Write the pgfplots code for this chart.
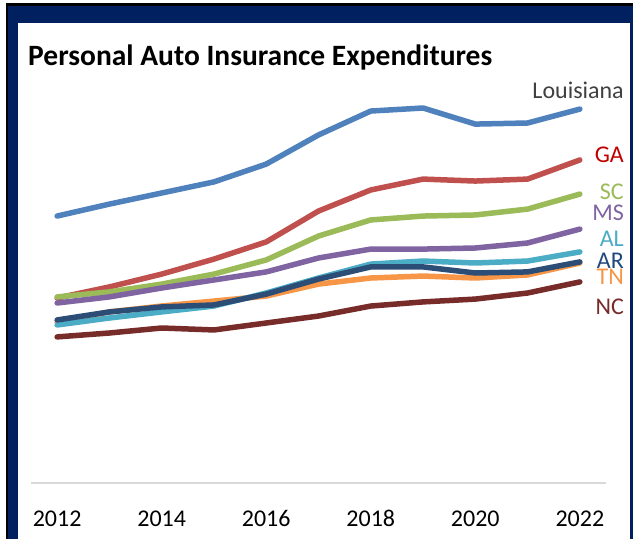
\documentclass[border=0pt]{standalone}
\usepackage{pgfplots}
\pgfplotsset{compat=1.18}
\usepackage{fontspec}
\setmainfont{Carlito}
\definecolor{frameblue}{HTML}{002060}
\definecolor{cLA}{HTML}{4F81BD}
\definecolor{cGA}{HTML}{C0504D}
\definecolor{cSC}{HTML}{9BBB59}
\definecolor{cMS}{HTML}{8064A2}
\definecolor{cAL}{HTML}{4BACC6}
\definecolor{cAR}{HTML}{2C4D75}
\definecolor{cTN}{HTML}{F79646}
\definecolor{cNC}{HTML}{772C2A}
\definecolor{tGA}{HTML}{C00000}
\definecolor{tAR}{HTML}{1F497D}
\definecolor{axisgray}{HTML}{D9D9D9}
\begin{document}
\begin{tikzpicture}[x=1pt,y=1pt]
\path[use as bounding box] (0,0) rectangle (633,539);
\fill[black] (6,-20) rectangle (660,536);
\fill[frameblue] (8,-20) rectangle (660,533);
\fill[white] (18,-20) rectangle (630,516);
\begin{axis}[
  at={(31pt,56pt)}, anchor=south west,
  scale only axis, width=575pt, height=391.3pt,
  xmin=2011.5, xmax=2022.5, ymin=0, ymax=1800,
  axis y line=none, axis x line*=bottom,
  x axis line style={axisgray, line width=1.5pt, -},
  xtick={2012,2014,2016,2018,2020,2022},
  xticklabels={2012,2014,2016,2018,2020,2022},
  major tick length=0pt,
  x tick label style={font=\fontsize{24}{24}\selectfont, text=black, yshift=-24pt},
  every axis plot/.append style={line width=5.5pt, line join=round, line cap=round, no markers},
  clip=false,
]
\addplot[cLA] coordinates {(2012,1228)(2013,1283)(2014,1334)(2015,1385)(2016,1467)(2017,1601)(2018,1711)(2019,1725)(2020,1651)(2021,1656)(2022,1720)};
\addplot[cGA] coordinates {(2012,851)(2013,902)(2014,961)(2015,1030)(2016,1109)(2017,1251)(2018,1348)(2019,1398)(2020,1389)(2021,1398)(2022,1486)};
\addplot[cSC] coordinates {(2012,856)(2013,879)(2014,915)(2015,961)(2016,1026)(2017,1136)(2018,1210)(2019,1228)(2020,1233)(2021,1260)(2022,1329)};
\addplot[cMS] coordinates {(2012,828)(2013,856)(2014,897)(2015,934)(2016,971)(2017,1035)(2018,1076)(2019,1076)(2020,1081)(2021,1104)(2022,1168)};
\addplot[cTN] coordinates {(2012,741)(2013,787)(2014,814)(2015,837)(2016,860)(2017,915)(2018,943)(2019,952)(2020,943)(2021,957)(2022,1012)};
\addplot[cAL] coordinates {(2012,727)(2013,759)(2014,787)(2015,814)(2016,874)(2017,943)(2018,1007)(2019,1021)(2020,1012)(2021,1021)(2022,1063)};
\addplot[cAR] coordinates {(2012,750)(2013,787)(2014,810)(2015,819)(2016,869)(2017,938)(2018,994)(2019,994)(2020,966)(2021,971)(2022,1017)};
\addplot[cNC] coordinates {(2012,672)(2013,690)(2014,713)(2015,704)(2016,736)(2017,768)(2018,814)(2019,833)(2020,846)(2021,874)(2022,925)};
\end{axis}
\node[anchor=west, inner sep=0pt, font=\bfseries\fontsize{29.5}{29.5}\selectfont] at (28,482) {Personal Auto Insurance Expenditures};
\begin{scope}[every node/.style={anchor=east, inner sep=0pt, font=\fontsize{24}{24}\selectfont}]
\node[text=black!75] at (624,449) {Louisiana};
\node[text=tGA] at (624,384) {GA};
\node[text=cSC] at (624,347) {SC};
\node[text=cMS] at (624,326.4) {MS};
\node[text=cAL] at (624,300.2) {AL};
\node[text=tAR] at (624,278.2) {AR};
\node[text=cTN] at (624,261.7) {TN};
\node[text=cNC] at (624,232) {NC};
\end{scope}
\end{tikzpicture}
\end{document}
